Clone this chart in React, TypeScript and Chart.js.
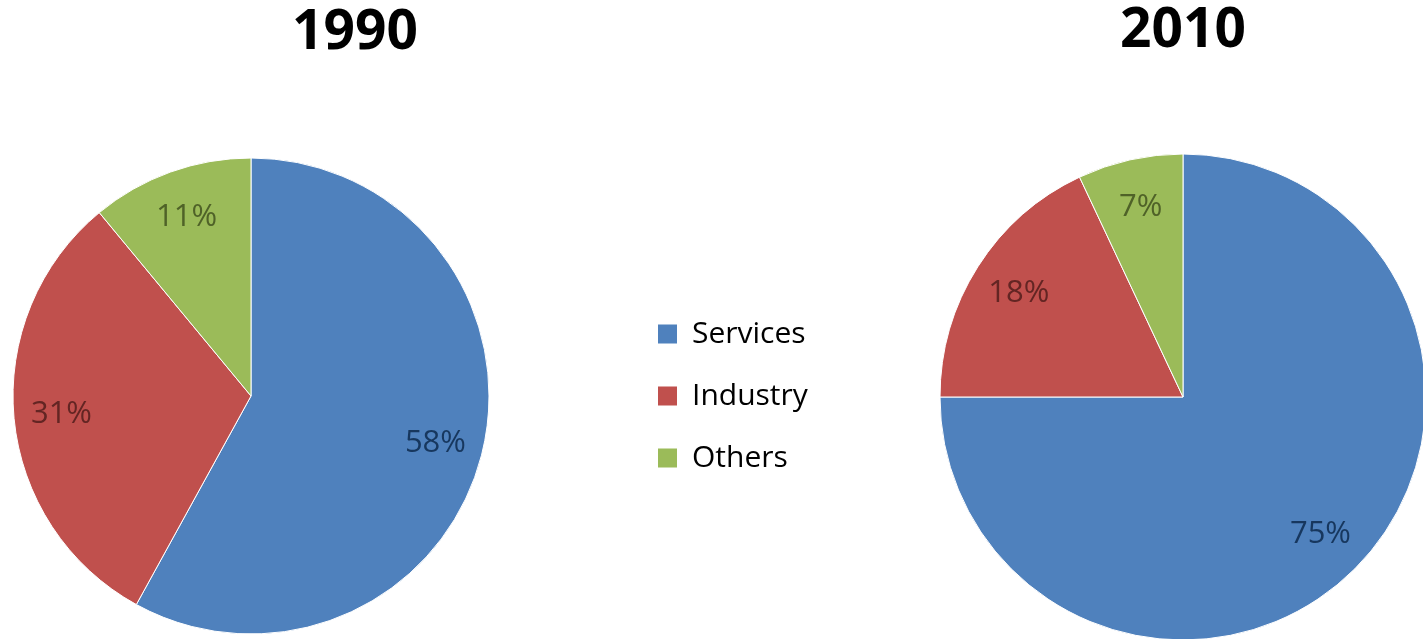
import React, { useEffect, useRef } from "react";
import { Chart, registerables, layouts, DoughnutController } from "chart.js";

Chart.register(...registerables);

const categories = ["Services", "Industry", "Others"];
const values1990 = [58, 31, 11];
const values2010 = [75, 18, 7];
const titles = ["1990", "2010"];

const SLICE_COLORS = ["#4F81BD", "#C0504D", "#9BBB59"];
const LABEL_COLORS = ["#17375E", "#632523", "#4F6228"];
const FONT = '"Open Sans", "DejaVu Sans", sans-serif';
const LABEL_SIZE = 31;
const LEGEND_SIZE = 30;
const LEGEND_PAD = 32;
const LEGEND_TOTAL = 208;

const sliceLabels = {
  id: "sliceLabels",
  afterDatasetsDraw(chart: any) {
    const { ctx } = chart;
    const meta = chart.getDatasetMeta(0);
    const data = chart.data.datasets[0].data;
    ctx.save();
    ctx.font = `${LABEL_SIZE}px ${FONT}`;
    ctx.textAlign = "center";
    ctx.textBaseline = "middle";
    meta.data.forEach((arc: any, i: number) => {
      const { x, y, startAngle, endAngle, outerRadius } = arc.getProps(
        ["x", "y", "startAngle", "endAngle", "outerRadius"],
        true
      );
      const mid = (startAngle + endAngle) / 2;
      const r = outerRadius * 0.8;
      ctx.fillStyle = LABEL_COLORS[i];
      ctx.fillText(`${data[i]}%`, x + Math.cos(mid) * r, y + Math.sin(mid) * r);
    });
    ctx.restore();
  },
};

const legendSpacer = {
  id: "legendSpacer",
  beforeInit(chart: any) {
    const box: any = {
      position: "right",
      weight: 2000,
      fullSize: false,
      options: {},
      left: 0,
      top: 0,
      right: 0,
      bottom: 0,
      width: 0,
      height: 0,
      isHorizontal() {
        return false;
      },
      update(_maxWidth: number, maxHeight: number) {
        this.width = chart.$spacerWidth || 0;
        this.height = maxHeight;
      },
      draw() {},
    };
    layouts.addBox(chart, box);
  },
};

function makeConfig(values: number[], title: string, withLegend: boolean, titleBottom: number): any {
  const baseGen = (DoughnutController as any).overrides.plugins.legend.labels.generateLabels;
  return {
    type: "pie",
    data: {
      labels: categories,
      datasets: [
        {
          data: values,
          backgroundColor: SLICE_COLORS,
          borderColor: "#ffffff",
          borderWidth: 1,
          hoverOffset: 0,
          clip: false,
        },
      ],
    },
    options: {
      responsive: false,
      animation: false,
      radius: withLegend ? 238 : 243,
      layout: { padding: 0 },
      events: [],
      plugins: {
        tooltip: { enabled: false },
        title: {
          display: true,
          text: title,
          color: "#000000",
          font: { family: FONT, size: 55, weight: "bold", lineHeight: 1.2 },
          padding: { top: 0, bottom: titleBottom },
        },
        legend: {
          display: withLegend,
          position: "right",
          align: "center",
          fullSize: false,
          labels: {
            color: "#000000",
            font: { family: FONT, size: LEGEND_SIZE },
            boxWidth: 19,
            boxHeight: 19,
            padding: LEGEND_PAD,
            generateLabels: (chart: any) =>
              baseGen(chart).map((l: any) => ({ ...l, strokeStyle: l.fillStyle, lineWidth: 0 })),
          },
        },
      },
    },
    plugins: withLegend ? [sliceLabels, legendSpacer] : [sliceLabels],
  };
}

function PieCanvas(props: {
  values: number[];
  title: string;
  withLegend: boolean;
  left: number;
  top: number;
  width: number;
  height: number;
  titleBottom: number;
}) {
  const ref = useRef<HTMLCanvasElement | null>(null);
  useEffect(() => {
    if (!ref.current) return;
    const chart: any = new Chart(ref.current, makeConfig(props.values, props.title, props.withLegend, props.titleBottom));
    if (props.withLegend && chart.legend) {
      chart.$spacerWidth = Math.max(0, LEGEND_TOTAL - chart.legend.width);
      chart.update();
    }
    return () => chart.destroy();
  }, []);
  return (
    <canvas
      ref={ref}
      width={props.width}
      height={props.height}
      style={{
        position: "absolute",
        left: props.left,
        top: props.top,
        width: props.width,
        height: props.height,
      }}
    />
  );
}

export default function App() {
  return (
    <div
      style={{
        position: "absolute",
        left: 0,
        top: 0,
        width: 1423,
        height: 639,
        overflow: "hidden",
        background: "#ffffff",
      }}
    >
      <PieCanvas values={values1990} title={titles[0]} withLegend={true} left={-124} top={0} width={958} height={639} titleBottom={87} />
      <PieCanvas values={values2010} title={titles[1]} withLegend={false} left={710} top={-2} width={946} height={700} titleBottom={32} />
    </div>
  );
}
